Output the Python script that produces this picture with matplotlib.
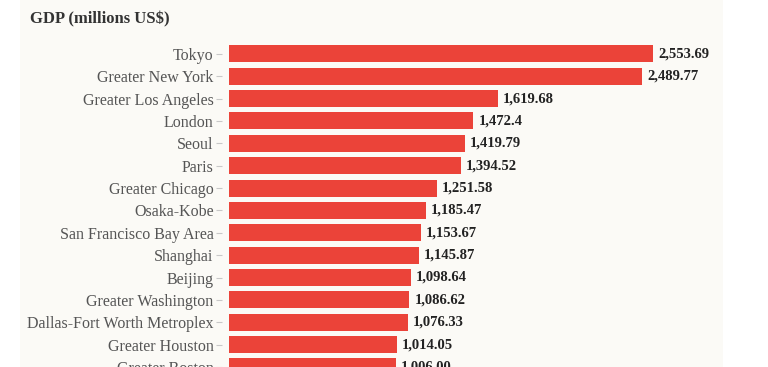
import matplotlib.pyplot as plt
from matplotlib.patches import Rectangle

cities = ['Tokyo', 'Greater New York', 'Greater Los Angeles', 'London', 'Seoul', 'Paris',
          'Greater Chicago', 'Osaka-Kobe', 'San Francisco Bay Area', 'Shanghai', 'Beijing',
          'Greater Washington', 'Dallas-Fort Worth Metroplex', 'Greater Houston', 'Greater Boston']
gdp = [2553.69, 2489.77, 1619.68, 1472.4, 1419.79, 1394.52, 1251.58, 1185.47, 1153.67,
       1145.87, 1098.64, 1086.62, 1076.33, 1014.05, 1006.0]
value_labels = ['2,553.69', '2,489.77', '1,619.68', '1,472.4', '1,419.79', '1,394.52', '1,251.58',
                '1,185.47', '1,153.67', '1,145.87', '1,098.64', '1,086.62', '1,076.33', '1,014.05',
                '1,006.00']

plt.rcParams['font.family'] = ['Liberation Serif', 'DejaVu Serif']

W, H = 768, 367
fig = plt.figure(figsize=(W / 100, H / 100), dpi=100, facecolor='white')

# cream panel behind the chart
fig.patches.append(Rectangle((20 / W, 0), (723 - 20) / W, 1, transform=fig.transFigure,
                             facecolor='#fbfaf6', edgecolor='none', zorder=-5))

fig.text(30 / W, 1 - 19 / H, 'GDP (millions US\\$)', fontsize=12, fontweight='bold',
         color='#333333', va='center', ha='left')

# axes: bar zero at x=229px, 0.16604 px per unit, first bar centre at y=54px
row = 22.75
ax = fig.add_axes([229 / W, 0, 2800 * 0.16604 / W, (H - 40) / H])
ax.set_facecolor('none')
pos = list(range(len(cities)))
ax.barh(pos, gdp, height=0.76, color='#eb4339', zorder=2)
ax.set_xlim(0, 2800)
ax.set_ylim((H - 54) / row, -14 / row)
ax.set_yticks(pos)
ax.set_yticklabels(cities)
ax.tick_params(axis='y', length=4, width=0.8, color='#c8c8c8', pad=2,
               labelsize=11.5, labelcolor='#555555')
ax.set_xticks([])
for s in ax.spines.values():
    s.set_visible(False)
ax.spines['left'].set_position(('outward', 5))

for p, v, t in zip(pos, gdp, value_labels):
    ax.annotate(t, (v, p), xytext=(3.5, 0), textcoords='offset points', va='center', ha='left',
                fontsize=10.5, fontweight='bold', color='#222222', annotation_clip=False)

fig.savefig('out.png', dpi=100, facecolor='white')
